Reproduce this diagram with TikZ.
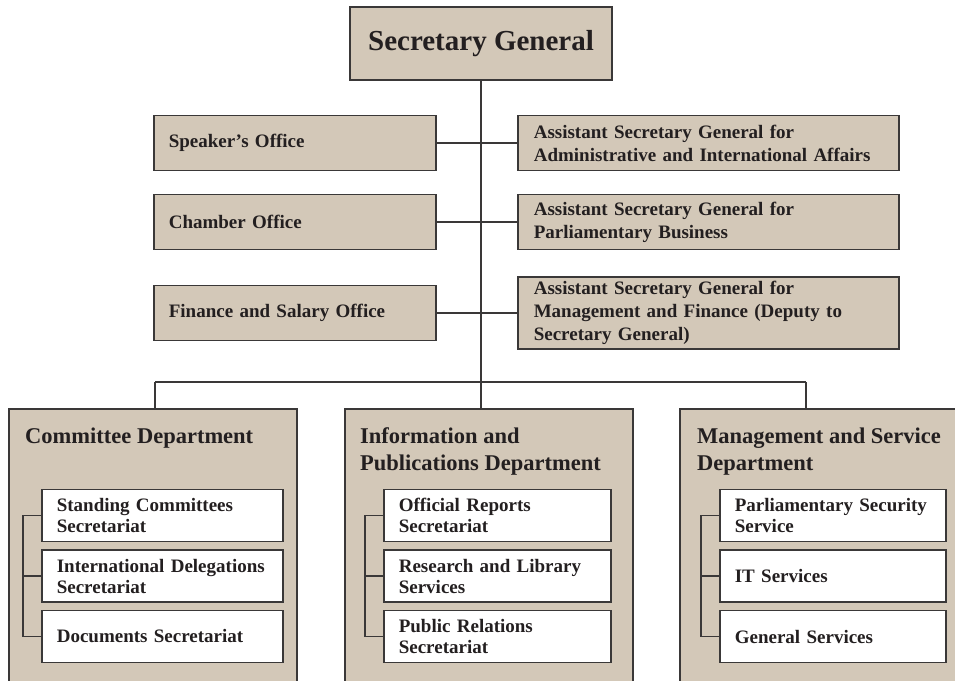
\documentclass[tikz,border=0pt]{standalone}
\usepackage{fontspec}
\setmainfont{Liberation Serif}
\usepackage{tikz}
\usetikzlibrary{positioning, calc}
\definecolor{boxtan}{RGB}{211,200,184}
\definecolor{rule}{RGB}{58,56,56}
\definecolor{ink}{RGB}{35,31,32}
\tikzstyle{link} = [line width=1.4pt, draw=rule]

\begin{document}
\begin{tikzpicture}[x=1pt, y=-1pt,
    topblock/.style={rectangle, draw=rule, line width=1.6pt, fill=boxtan, text=ink, minimum width=262pt, minimum height=73pt, font=\bfseries\fontsize{29}{32}\selectfont},
    officeblock/.style={rectangle, draw=rule, line width=1.6pt, fill=boxtan, text=ink, align=left, anchor=west, inner xsep=15pt, text width=252pt, minimum height=55pt, font=\bfseries\fontsize{19}{23}\selectfont},
    asgblock/.style={officeblock, inner xsep=16pt, text width=349pt},
    deptblock/.style={rectangle, draw=rule, line width=1.6pt, fill=boxtan, anchor=north west, minimum width=288pt, minimum height=320pt},
    depttitle/.style={align=left, anchor=base west, inner sep=0pt, text=ink, font=\bfseries\fontsize{22.5}{27}\selectfont},
    unitblock/.style={rectangle, draw=rule, line width=1.6pt, fill=white, text=ink, align=left, anchor=west, inner xsep=15pt, minimum height=52pt, font=\bfseries\fontsize{19}{21}\selectfont},
]

% Page frame
\useasboundingbox (0,0) rectangle (955,680);
\clip (0,0) rectangle (955,680);

% Secretary General
\node[topblock] (sg) at (481, 43.5) {Secretary General};

% Offices (left)
\node[officeblock] (speaker) at (153, 143) {Speaker’s Office};
\node[officeblock] (chamber) at (153, 222) {Chamber Office};
\node[officeblock] (finance) at (153, 313) {Finance and Salary Office};

% Assistant Secretaries General (right)
\node[asgblock] (asgadmin) at (517, 143) {Assistant Secretary General for\\Administrative and International Affairs};
\node[asgblock] (asgparl) at (517, 222) {Assistant Secretary General for\\Parliamentary Business};
\node[asgblock, minimum height=72pt] (asgmgmt) at (517, 313) {Assistant Secretary General for\\Management and Finance (Deputy to\\Secretary General)};

% Departments
\node[deptblock] (cdept) at (8, 408) {};
\node[deptblock] (idept) at (344, 408) {};
\node[deptblock] (mdept) at (679, 408) {};

% Trunk and branches
\coordinate (hub) at (481, 382);
\coordinate (cdrop) at (155, 382);
\coordinate (mdrop) at (806, 382);
\draw[link] (sg.south) -- (hub);
\foreach \l/\r in {speaker/asgadmin, chamber/asgparl, finance/asgmgmt}
    \draw[link] (\l.east) -- (\r.west);
\draw[link] (cdrop) -- (mdrop);
\draw[link] (cdrop) -- (cdrop |- cdept.north);
\draw[link] (hub) -- (hub |- idept.north);
\draw[link] (mdrop) -- (mdrop |- mdept.north);

% Department titles (base = last line)
\node[depttitle] (ctitle) at (25, 443) {Committee Department};
\node[depttitle] (ititle) at (360, 470) {Information and\\Publications Department};
\node[depttitle] (mtitle) at (697, 470) {Management and Service\\Department};

% Committee Department units
\node[unitblock, text width=211pt] (c1) at (41, 515.5) {Standing Committees\\Secretariat};
\node[unitblock, text width=211pt] (c2) at (41, 576) {International Delegations\\Secretariat};
\node[unitblock, text width=211pt] (c3) at (41, 636.5) {Documents Secretariat};

% Information and Publications Department units
\node[unitblock, text width=197pt] (i1) at (383, 515.5) {Official Reports\\Secretariat};
\node[unitblock, text width=197pt] (i2) at (383, 576) {Research and Library\\Services};
\node[unitblock, text width=197pt] (i3) at (383, 636.5) {Public Relations\\Secretariat};

% Management and Service Department units
\node[unitblock, text width=196pt] (m1) at (719, 515.5) {Parliamentary Security\\Service};
\node[unitblock, text width=196pt] (m2) at (719, 576) {IT Services};
\node[unitblock, text width=196pt] (m3) at (719, 636.5) {General Services};

% Unit brackets
\foreach \d in {c, i, m} {
    \draw[link] (\d1.west) -- ++(-18,0) |- (\d3.west);
    \draw[link] (\d2.west) -- ++(-18,0);
}

\end{tikzpicture}
\end{document}
